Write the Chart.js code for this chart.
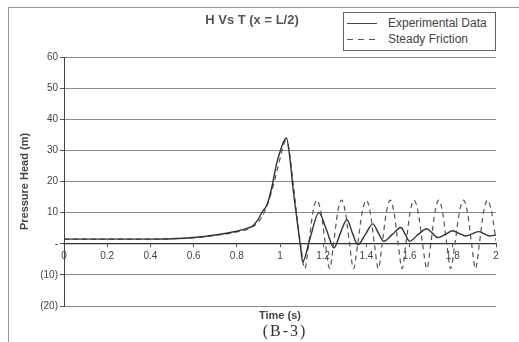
<!DOCTYPE html>
<html>
<head>
<meta charset="utf-8">
<script src="https://cdn.jsdelivr.net/npm/chart.js@4"></script>
<style>
  html, body { margin: 0; padding: 0; background: #fff; }
  #wrap { position: relative; width: 519px; height: 342px; overflow: hidden; }
  #frame { position: absolute; left: 8px; top: 7px; width: 540px; height: 360px;
           border-top: 1px solid #999; border-left: 1px solid #999; }
  #legend { position: absolute; left: 343px; top: 12px; width: 151px; height: 37px;
            border: 1px solid #666; background: #fff;
            font: 12px "Liberation Sans", Arial, sans-serif; color: #444; }
  .row { position: absolute; left: 0; height: 14px; line-height: 14px; white-space: nowrap; }
  .row .sample { position: absolute; left: 3px; top: 7px; width: 30px; height: 1px; background: #444; }
  .row .sample.dash { width: 28px; background: repeating-linear-gradient(to right, #555 0 6px, transparent 6px 11px); }
  .row .txt { position: absolute; left: 44px; top: 0; }
  #legenda-fig { position: absolute; left: 250px; width: 70px; top: 322px; text-align: center;
                 font: 16px "Liberation Serif", "Times New Roman", serif; color: #333; letter-spacing: 2px; }
  canvas { position: absolute; left: 0; top: 0; }
</style>
</head>
<body>
<div id="wrap">
  <div id="frame"></div>
  <canvas id="grafico" width="519" height="342"></canvas>
  <div id="legend">
    <div class="row" style="top:3px"><span class="sample"></span><span class="txt">Experimental Data</span></div>
    <div class="row" style="top:19px"><span class="sample dash"></span><span class="txt">Steady Friction</span></div>
  </div>
  <div id="legenda-fig">(B-3)</div>
</div>
<script>
// valores (tempo em s, carga em m)
const tempoExp = [0, 0.2, 0.4, 0.5, 0.6, 0.7, 0.8, 0.85, 0.875, 0.9, 0.92, 0.94, 0.96, 0.985, 1.0, 1.015,
  1.03, 1.045, 1.06, 1.08, 1.095, 1.105, 1.14, 1.18, 1.215, 1.25, 1.28, 1.31, 1.335, 1.36, 1.395,
  1.43, 1.455, 1.48, 1.52, 1.56, 1.58, 1.60, 1.64, 1.68, 1.705, 1.73, 1.765, 1.80, 1.83, 1.86,
  1.89, 1.92, 1.945, 1.97, 2.0];
const cargaExp = [1.5, 1.5, 1.5, 1.6, 2.0, 2.8, 4.0, 5.0, 5.8, 8.0, 10.5, 12.5, 17.5, 26, 29.5, 32.5,
  34, 28, 18, 7, -1, -5.8, 2, 10, 4.5, -1.3, 3.5, 7.7, 3.5, -0.3, 3,
  6.4, 3.5, 0.8, 3, 5.2, 3, 0.8, 3, 4.8, 3.4, 2, 3, 4.2, 3.3, 2.5,
  3.2, 3.9, 3.2, 2.5, 2.8];

const tempoSF = [0, 0.2, 0.4, 0.5, 0.6, 0.7, 0.8, 0.85, 0.9, 0.93, 0.96, 0.99, 1.01, 1.025, 1.04, 1.06,
  1.08, 1.095, 1.115, 1.133, 1.152, 1.17, 1.19, 1.21, 1.23, 1.248, 1.267, 1.285, 1.303, 1.322,
  1.34, 1.36, 1.38, 1.40, 1.418, 1.437, 1.455, 1.473, 1.492, 1.51, 1.528, 1.547, 1.565, 1.583,
  1.602, 1.62, 1.64, 1.66, 1.68, 1.698, 1.717, 1.735, 1.753, 1.772, 1.79, 1.81, 1.83, 1.85,
  1.868, 1.887, 1.905, 1.923, 1.942, 1.96, 1.98, 2.0];
const cargaSF = [1.5, 1.5, 1.5, 1.6, 1.9, 2.7, 3.8, 4.7, 7, 10.5, 16.5, 24.5, 30, 33, 31, 20,
  8, 0, -8, 0, 10, 14, 10, 0, -8, 0, 10, 14, 10, 0,
  -8, 0, 10, 14, 10, 0, -8, 0, 10, 14, 10, 0, -8, 0,
  10, 14, 10, 0, -8, 0, 10, 14, 10, 0, -8, 0, 10, 14,
  10, 0, -8, 0, 10, 14, 10, 1];

const titulo = 'H Vs T (x = L/2)';
const legenda = ['Experimental Data', 'Steady Friction'];

const pontos = (xs, ys) => xs.map((t, i) => ({ x: t, y: ys[i] }));

Chart.defaults.font.family = '"Liberation Sans", Arial, sans-serif';
Chart.defaults.color = '#444';

new Chart(document.getElementById('grafico'), {
  type: 'line',
  data: {
    datasets: [
      {
        label: legenda[0],
        data: pontos(tempoExp, cargaExp),
        borderColor: '#333',
        borderWidth: 1.4,
        pointRadius: 0,
        cubicInterpolationMode: 'monotone',
        fill: false
      },
      {
        label: legenda[1],
        data: pontos(tempoSF, cargaSF),
        borderColor: '#555',
        borderWidth: 1.2,
        borderDash: [5, 4],
        pointRadius: 0,
        cubicInterpolationMode: 'monotone',
        fill: false
      }
    ]
  },
  options: {
    responsive: false,
    animation: false,
    layout: { padding: { left: 8, right: 23, top: 0, bottom: 19.2 } },
    plugins: {
      legend: { display: false },
      tooltip: { enabled: false },
      title: {
        display: true,
        text: titulo,
        color: '#555',
        font: { size: 13, weight: 'bold' },
        padding: { top: 13, bottom: 28.4 }
      }
    },
    scales: {
      x: {
        type: 'linear',
        min: 0, max: 2,
        ticks: { display: false },
        grid: { display: false },
        border: { display: false },
        title: { display: true, text: 'Time (s)', color: '#444', font: { size: 11, weight: 'bold' }, padding: { top: 0, bottom: 0 } },
        afterFit: s => { s.height = 16.8; }
      },
      x2: {
        type: 'linear',
        axis: 'x',
        position: { y: 0 },
        min: 0, max: 2,
        ticks: {
          stepSize: 0.2,
          padding: 3,
          color: '#444',
          font: { size: 10 },
          maxRotation: 0,
          callback: v => String(Number(v.toFixed(1)))
        },
        grid: { display: true, drawOnChartArea: false, tickLength: 3, tickColor: '#555' },
        border: { display: true, color: '#333', width: 1.2 }
      },
      y: {
        min: -20, max: 60,
        ticks: {
          stepSize: 10,
          padding: 2,
          color: '#444',
          font: { size: 10 },
          callback: v => v === 0 ? '-' : (v < 0 ? '(' + (-v) + ')' : String(v))
        },
        grid: { color: '#888', lineWidth: 1, tickLength: 4, tickColor: '#555' },
        border: { display: true, color: '#444', width: 1 },
        title: { display: true, text: 'Pressure Head (m)', color: '#444', font: { size: 11, weight: 'bold' }, padding: { top: 10, bottom: 0 } },
        afterFit: s => { s.width = 56; }
      }
    }
  }
});
</script>
</body>
</html>
